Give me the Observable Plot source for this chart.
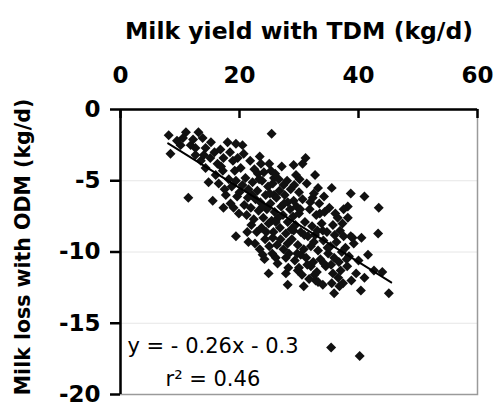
<!DOCTYPE html>
<html>
<head>
<meta charset="utf-8">
<script src="https://cdn.jsdelivr.net/npm/d3@7"></script>
<script src="https://cdn.jsdelivr.net/npm/@observablehq/plot@0.6"></script>
<style>
  html, body { margin: 0; padding: 0; background: #fff; }
  #chart svg { display: block; }
</style>
</head>
<body>
<div id="chart"></div>
<script>
// Milk yield with total dry matter (TDM) vs. milk loss with ODM, one dot per cow
const milkYieldTDM = [
  8.1, 11.0, 13.1, 13.8, 8.4, 10.1, 11.8, 14.3, 15.2, 18.0,
  19.4, 12.6, 13.5, 14.3, 16.3, 17.2, 14.8, 16.0, 11.4, 15.5,
  17.7, 18.5, 19.4, 19.7, 17.3, 18.9, 12.6, 17.3, 19.4, 19.0,
  21.5, 20.7, 20.5, 23.6, 25.3, 25.4, 27.4, 30.0, 33.2, 29.1,
  32.3, 25.8, 23.1, 21.4, 25.8, 28.1, 31.1, 30.6, 29.5, 32.7,
  35.5, 38.7, 41.0, 34.2, 38.2, 38.2, 36.5, 38.7, 37.5, 43.4,
  43.3, 39.0, 42.6, 35.7, 37.0, 37.4, 36.7, 45.1, 40.4, 35.9,
  25.6, 28.1, 26.1, 24.9, 27.8, 30.3, 30.0, 32.0, 28.1, 30.8,
  32.8, 32.5, 34.0, 29.1, 26.4, 23.9, 27.8, 29.8, 33.2, 35.4,
  40.2,
  20.2, 20.5, 20.8, 21.0, 21.2, 21.5, 21.8, 21.9, 22.0, 22.2,
  22.4, 22.5, 22.7, 22.9, 23.0, 23.2, 23.4, 23.5, 23.7, 23.8,
  24.0, 24.1, 24.3, 24.4, 24.6, 24.8, 24.9, 25.0, 25.2, 25.4,
  25.6, 25.7, 25.9, 26.0, 26.2, 26.3, 26.5, 26.7, 26.8, 27.0,
  27.1, 27.3, 27.4, 27.6, 27.8, 28.0, 28.1, 28.3, 28.5, 28.6,
  28.8, 29.0, 29.1, 29.3, 29.4, 29.6, 29.8, 30.0, 30.1, 30.3,
  30.5, 30.6, 30.8, 31.0, 31.2, 31.3, 31.5, 31.7, 31.8, 32.0,
  32.2, 32.4, 32.5, 32.7, 32.9, 33.0, 33.2, 33.4, 33.6, 33.8,
  34.0, 34.1, 34.3, 34.5, 34.7, 34.9, 35.1, 35.3, 35.5, 35.7,
  35.9, 36.1, 36.3, 36.6, 36.9, 37.2, 37.5, 37.8, 38.1, 38.4,
  38.8, 39.2, 39.6, 40.0, 40.5, 41.0, 41.6, 44.0, 15.8, 16.5,
  16.8, 17.5, 18.2, 18.4, 18.7, 19.2, 19.6, 19.9, 20.0, 16.9,
  15.1, 14.0, 12.2, 10.5, 9.5, 23.4, 24.2, 25.0,
  21.3, 22.1, 22.6, 23.3, 23.9, 24.5, 25.1, 25.5, 26.1, 26.6,
  26.9, 27.5, 28.2, 28.7, 29.2, 29.7, 30.2, 30.9, 31.4, 31.9,
  32.6, 33.1, 33.5, 34.2, 34.8, 35.4, 36.0, 36.8, 37.3, 38.0
];
const milkLossODM = [
  -1.8, -1.6, -1.6, -2.0, -3.1, -2.5, -2.5, -2.7, -2.3, -2.3,
  -2.4, -3.2, -3.6, -4.1, -3.8, -4.3, -5.1, -4.6, -6.2, -6.4,
  -6.0, -6.6, -5.0, -3.4, -3.4, -3.6, -2.7, -6.9, -8.9, -6.9,
  -9.3, -3.1, -2.5, -3.8, -4.3, -1.7, -5.3, -5.8, -5.5, -6.4,
  -6.2, -4.8, -4.5, -6.2, -6.0, -6.5, -3.4, -3.8, -4.6, -4.6,
  -5.5, -5.9, -6.1, -6.1, -6.8, -7.6, -7.6, -8.9, -8.9, -6.9,
  -8.7, -9.0, -11.3, -11.5, -11.3, -12.2, -10.7, -12.9, -12.7, -12.9,
  -9.0, -9.4, -10.4, -11.5, -10.4, -10.2, -11.1, -11.0, -12.3, -12.4,
  -12.0, -9.3, -8.5, -8.5, -10.8, -10.2, -11.5, -11.3, -12.1, -16.7,
  -17.3,
  -4.1, -5.3, -6.7, -4.8, -7.4, -5.6, -3.6, -6.9, -8.1, -5.1,
  -7.7, -4.2, -6.3, -8.6, -5.7, -7.1, -3.3, -6.5, -8.3, -5.0,
  -7.6, -4.4, -9.1, -6.0, -7.0, -5.4, -8.0, -3.8, -6.6, -7.8,
  -5.2, -8.6, -7.2, -4.5, -6.2, -9.5, -7.6, -5.7, -8.3, -6.8,
  -4.0, -7.4, -9.8, -6.0, -8.7, -5.0, -7.9, -10.1, -7.0, -5.6,
  -9.1, -7.5, -3.9, -10.6, -8.1, -6.8, -9.5, -7.3, -4.9, -8.6,
  -11.6, -6.3, -9.8, -7.9, -10.4, -5.2, -8.9, -11.9, -7.0, -9.6,
  -8.2, -10.7, -5.9, -8.8, -7.4, -11.4, -9.9, -6.6, -10.5, -8.0,
  -12.3, -9.2, -7.2, -11.0, -8.6, -10.1, -6.9, -9.6, -12.2, -8.1,
  -10.4, -7.3, -9.3, -11.8, -8.5, -10.0, -7.0, -9.7, -11.0, -10.3,
  -12.0, -9.4, -11.5, -10.6, -9.0, -11.8, -10.2, -11.4, -3.0, -5.2,
  -2.8, -5.6, -4.9, -3.0, -5.4, -4.3, -6.1, -7.3, -5.8, -4.0,
  -3.4, -3.2, -2.1, -2.0, -2.2, -9.8, -10.5, -9.6,
  -8.6, -6.0, -9.4, -4.9, -6.8, -8.6, -5.9, -10.1, -7.9, -4.9,
  -9.1, -6.6, -11.1, -8.4, -5.3, -10.1, -7.0, -8.8, -10.9, -6.5,
  -11.6, -8.5, -7.3, -10.8, -9.7, -10.9, -8.8, -12.4, -8.0, -10.5
];

// Linear fit and its extent along x
const fitSlope = [-0.26];
const fitIntercept = [-0.3];
const fitRange = [8, 45.5];
const fitLabel = ["y = - 0.26x - 0.3"];
const r2Label = ["r\u00b2 = 0.46"];

// Axes
const xTicks = [0, 20, 40, 60];
const yTicks = [0, -5, -10, -15, -20];
const yGridLines = [-5, -10, -15];
const xTitle = ["Milk yield with TDM (kg/d)"];
const yTitle = ["Milk loss with ODM (kg/d)"];

const cows = milkYieldTDM.map((x, i) => ({x, y: milkLossODM[i]}));
const fitLine = fitRange.map(x => ({x, y: fitSlope[0] * x + fitIntercept[0]}));

const boldText = {fontFamily: "DejaVu Sans", fontWeight: "bold", fill: "#000"};

const chart = Plot.plot({
  width: 495,
  height: 404,
  marginLeft: 120,
  marginRight: 18,
  marginTop: 109,
  marginBottom: 10,
  style: {fontFamily: "DejaVu Sans", background: "#fff", color: "#000"},
  x: {domain: [0, 60]},
  y: {domain: [-20, 0]},
  marks: [
    Plot.gridY(yGridLines, {stroke: "#e6e6e6", strokeOpacity: 1, strokeWidth: 1}),
    Plot.frame({stroke: "#9a9a9a", strokeWidth: 1.5}),
    Plot.dot(cows, {x: "x", y: "y", symbol: "diamond2", r: 4.5, fill: "#111", stroke: "none"}),
    Plot.line(fitLine, {x: "x", y: "y", stroke: "#000", strokeWidth: 2}),
    Plot.ruleY([0], {stroke: "#000", strokeWidth: 2.5}),
    Plot.ruleX([0], {stroke: "#000", strokeWidth: 2.5}),
    Plot.tickX(xTicks, {x: d => d, stroke: "#000", strokeWidth: 2.5, insetBottom: 276}),
    Plot.axisX(xTicks, {
      anchor: "top", tickSize: 0, tickPadding: 27, label: null,
      tickFormat: d => String(d), fontSize: 23, fontWeight: "bold"
    }),
    Plot.axisY(yTicks, {
      anchor: "left", tickSize: 10, tickPadding: 10, label: null, strokeWidth: 2.5,
      tickFormat: d => String(d), fontSize: 23, fontWeight: "bold"
    }),
    Plot.text(xTitle, {
      frameAnchor: "top", dy: -71, lineAnchor: "bottom", textAnchor: "middle",
      fontSize: 23.5, ...boldText
    }),
    Plot.text(yTitle, {
      frameAnchor: "left", dx: -97, dy: -5, rotate: -90, lineAnchor: "middle", textAnchor: "middle",
      fontSize: 20.5, ...boldText
    }),
    Plot.text(fitLabel, {
      frameAnchor: "bottom-left", dx: 7, dy: -42, lineAnchor: "bottom", textAnchor: "start",
      fontSize: 21, fill: "#000"
    }),
    Plot.text(r2Label, {
      frameAnchor: "bottom-left", dx: 45, dy: -9, lineAnchor: "bottom", textAnchor: "start",
      fontSize: 21, fill: "#000"
    })
  ]
});

document.getElementById("chart").appendChild(chart);
</script>
</body>
</html>
